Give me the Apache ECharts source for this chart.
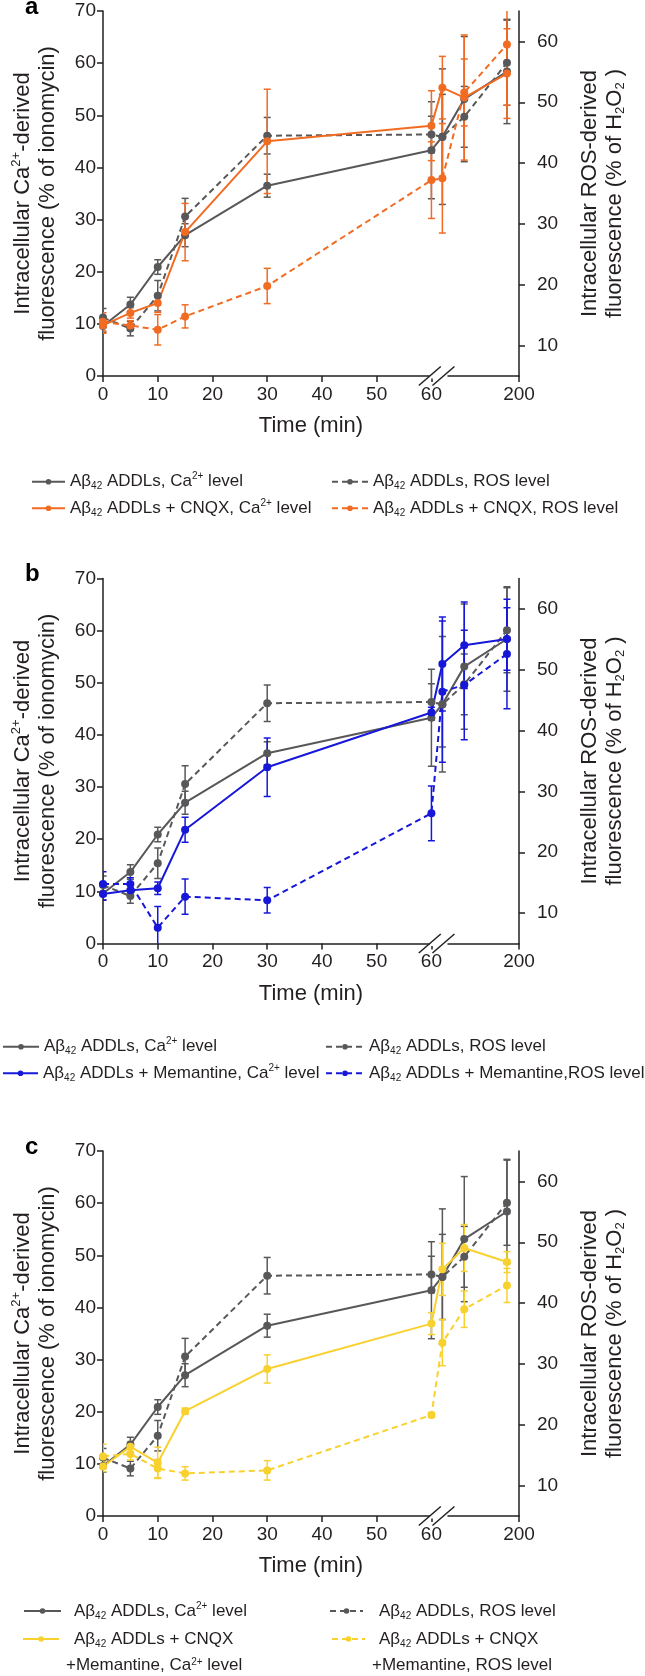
<!DOCTYPE html>
<html><head><meta charset="utf-8">
<script src="https://cdn.jsdelivr.net/npm/echarts@6/dist/echarts.min.js"></script>
<style>html,body{margin:0;padding:0;background:#fff}#c{width:645px;height:1676px}</style>
</head><body><div id="c"></div><script>
const FONT = '"Liberation Sans", Arial, Helvetica, sans-serif';
const INK = '#231f20';
const GRAY = '#58585a', ORANGE = '#f26b22', BLUE = '#1717d9', YELLOW = '#f9d12f';

// x positions on the broken time axis (axis units; compressed after the break at 60 min)
const timePos = [0, 5, 10, 15, 30, 60, 62, 66, 73.8];
const xTickPos = [0, 10, 20, 30, 40, 50, 60, 76];
const xTickLabels = ['0', '10', '20', '30', '40', '50', '60', '200'];
const breakPos = [59.7, 62.2];
const rightTicks = [10, 20, 30, 40, 50, 60];

// Aβ42 ADDLs alone (same control in all panels)
const grayCa     = [9.6, 13.7, 20.9, 27.0, 36.5, 43.3, 45.9, 53.1, 58.4];
const grayCaErr  = [1.2, 1.4, 1.4, 2.2, 2.2, 9.3, 13, 12, 10];
const grayRos    = [14.6, 12.8, 18.2, 31.2, 44.5, 44.7, 44.3, 47.6, 56.5];
const grayRosErr = [1.5, 1.2, 2.5, 3.0, 3.0, 3.0, 7, 5, 7];
// + CNQX (panel a)
const orangeCa     = [9.7, 12.1, 14.0, 27.6, 45.0, 48.0, 55.3, 53.4, 58.0];
const orangeCaErr  = [1.5, 1.0, 1.8, 5.5, 10, 6.7, 6, 12, 8.6];
const orangeRos    = [13.9, 13.3, 12.6, 14.8, 19.8, 37.2, 37.5, 51.6, 59.5];
const orangeRosErr = [1.5, 0.8, 2.5, 1.9, 2.9, 6.3, 9, 5.5, 10];
// + Memantine (panel b)
const blueCa     = [9.5, 10.2, 10.6, 21.8, 33.8, 44.3, 53.6, 57.2, 58.4];
const blueCaErr  = [1.2, 1.0, 1.2, 2.4, 5.6, 1.0, 9.0, 8.3, 6];
const blueRos    = [14.8, 14.8, 7.6, 12.7, 12.1, 26.4, 46.4, 47.5, 52.6];
const blueRosErr = [2.0, 1.0, 3.5, 2.9, 2.1, 4.5, 11.6, 9, 9];
// + CNQX + Memantine (panel c)
const yellowCa     = [9.5, 13.3, 10.2, 20.1, 28.2, 36.9, 47.3, 51.4, 48.7];
const yellowCaErr  = [1.0, 1.0, 3.0, 0.6, 2.7, 2.1, 5, 4.5, 2];
const yellowRos    = [14.8, 15.2, 12.8, 12.0, 12.5, 21.6, 33.5, 39.0, 42.9];
const yellowRosErr = [2.0, 1.0, 1.5, 1.1, 1.6, 0.4, 3.8, 3.0, 2.8];

const N = {
  gCa: 'Aβ42 ADDLs, Ca2+ level', gRos: 'Aβ42 ADDLs, ROS level',
  oCa: 'Aβ42 ADDLs + CNQX, Ca2+ level', oRos: 'Aβ42 ADDLs + CNQX, ROS level',
  bCa: 'Aβ42 ADDLs + Memantine, Ca2+ level', bRos: 'Aβ42 ADDLs + Memantine,ROS level',
  yCa: 'Aβ42 ADDLs + CNQX + Memantine, Ca2+ level', yRos: 'Aβ42 ADDLs + CNQX + Memantine, ROS level'
};
const legendShown = {};
legendShown[N.yCa] = 'Aβ42 ADDLs + CNQX';
legendShown[N.yRos] = 'Aβ42 ADDLs + CNQX';

function richText(s) { return s.replace('β42', 'β{sub|42}').replace('Ca2+', 'Ca{sup|2+}'); }

const panels = [
  { top: 11, letter: 'a', color: ORANGE, ca: orangeCa, caErr: orangeCaErr, ros: orangeRos, rosErr: orangeRosErr, nCa: N.oCa, nRos: N.oRos },
  { top: 578.5, letter: 'b', color: BLUE, ca: blueCa, caErr: blueCaErr, ros: blueRos, rosErr: blueRosErr, nCa: N.bCa, nRos: N.bRos },
  { top: 1151, letter: 'c', color: YELLOW, ca: yellowCa, caErr: yellowCaErr, ros: yellowRos, rosErr: yellowRosErr, nCa: N.yCa, nRos: N.yRos }
];
const GH = 365;

const labelStyle = { color: INK, fontFamily: FONT, fontSize: 19 };
const axisLineStyle = { color: INK, width: 1.5 };
const nameRich = {
  sup: { fontFamily: FONT, fontSize: 13, lineHeight: 12, verticalAlign: 'top', color: INK },
  sub: { fontFamily: FONT, fontSize: 13, lineHeight: 12, verticalAlign: 'bottom', color: INK }
};

const grid = [], xAxis = [], yAxis = [], series = [];

function lineSeries(name, color, dashed, vals, p, yi) {
  return {
    type: 'line', name: name, xAxisIndex: p, yAxisIndex: yi, z: 4,
    data: vals.map((v, i) => [timePos[i], v]),
    symbol: 'circle', symbolSize: 8, showSymbol: true,
    itemStyle: { color: color },
    lineStyle: { color: color, width: 2, type: dashed ? [6, 4] : 'solid' },
    emphasis: { disabled: true }, animation: false
  };
}
function errSeries(color, vals, errs, p, yi) {
  return {
    type: 'custom', xAxisIndex: p, yAxisIndex: yi, z: 3, clip: true, silent: true,
    data: vals.map((v, i) => [timePos[i], v, errs[i]]),
    encode: { x: 0, y: 1 },
    renderItem: function (params, api) {
      const x = api.value(0), y = api.value(1), e = api.value(2);
      const t = api.coord([x, y + e]), b = api.coord([x, y - e]);
      const w = 3.5, st = { stroke: color, lineWidth: 1.5 };
      return { type: 'group', children: [
        { type: 'line', shape: { x1: t[0], y1: t[1], x2: b[0], y2: b[1] }, style: st },
        { type: 'line', shape: { x1: t[0] - w, y1: t[1], x2: t[0] + w, y2: t[1] }, style: st },
        { type: 'line', shape: { x1: b[0] - w, y1: b[1], x2: b[0] + w, y2: b[1] }, style: st }
      ] };
    },
    animation: false
  };
}

panels.forEach((P, p) => {
  grid.push({ left: 103, width: 416, top: P.top, height: GH });
  xAxis.push({
    type: 'value', gridIndex: p, min: 0, max: 76,
    axisLine: { show: true, onZero: false, lineStyle: axisLineStyle },
    axisTick: { show: true, length: 6, customValues: xTickPos, lineStyle: axisLineStyle },
    axisLabel: { show: true, customValues: xTickPos, margin: 9, ...labelStyle,
      formatter: v => xTickLabels[xTickPos.indexOf(v)] },
    splitLine: { show: false },
    name: 'Time (min)', nameLocation: 'middle', nameGap: 39,
    nameTextStyle: { color: INK, fontFamily: FONT, fontSize: 22 }
  });
  yAxis.push({
    type: 'value', gridIndex: p, position: 'left', min: 0, max: 70, interval: 10,
    axisLine: { show: true, onZero: false, lineStyle: axisLineStyle },
    axisTick: { show: true, length: 6, lineStyle: axisLineStyle },
    axisLabel: { show: true, margin: 7, ...labelStyle },
    splitLine: { show: false },
    name: 'Intracellular Ca{sup|2+}-derived\nfluorescence (% of ionomycin)',
    nameLocation: 'middle', nameRotate: 90, nameGap: 43,
    nameTextStyle: { color: INK, fontFamily: FONT, fontSize: 22, lineHeight: 25, rich: nameRich }
  });
  yAxis.push({
    type: 'value', gridIndex: p, position: 'right', min: 5, max: 65,
    axisLine: { show: true, onZero: false, lineStyle: axisLineStyle },
    axisTick: { show: true, length: 6, customValues: rightTicks, lineStyle: axisLineStyle },
    axisLabel: { show: true, customValues: rightTicks, margin: 18, ...labelStyle },
    splitLine: { show: false },
    name: 'Intracellular ROS-derived\nfluorescence (% of H{sub|2}O{sub|2} )',
    nameLocation: 'middle', nameRotate: 90, nameGap: 58,
    nameTextStyle: { color: INK, fontFamily: FONT, fontSize: 22, lineHeight: 25, rich: nameRich }
  });
  const yl = 2 * p, yr = 2 * p + 1;
  series.push(errSeries(GRAY, grayCa, grayCaErr, p, yl));
  series.push(errSeries(GRAY, grayRos, grayRosErr, p, yr));
  series.push(errSeries(P.color, P.ca, P.caErr, p, yl));
  series.push(errSeries(P.color, P.ros, P.rosErr, p, yr));
  series.push(lineSeries(N.gCa, GRAY, false, grayCa, p, yl));
  series.push(lineSeries(N.gRos, GRAY, true, grayRos, p, yr));
  series.push(lineSeries(P.nCa, P.color, false, P.ca, p, yl));
  series.push(lineSeries(P.nRos, P.color, true, P.ros, p, yr));
  // axis break marks
  series.push({
    type: 'custom', xAxisIndex: p, yAxisIndex: yl, z: 6, clip: false, silent: true,
    data: [[breakPos[0], 0, breakPos[1]]], encode: { x: 0, y: 1 },
    renderItem: function (params, api) {
      const a = api.coord([api.value(0), api.value(1)]);
      const b = api.coord([api.value(2), api.value(1)]);
      const hx = 11, hy = 9.5, st = { stroke: INK, lineWidth: 1.5 };
      return { type: 'group', children: [
        { type: 'rect', shape: { x: a[0], y: a[1] - 2.5, width: b[0] - a[0] + 4, height: 5 }, style: { fill: '#fff' } },
        { type: 'line', shape: { x1: a[0] - hx, y1: a[1] + hy, x2: a[0] + hx, y2: a[1] - hy }, style: st },
        { type: 'line', shape: { x1: b[0] - hx, y1: b[1] + hy, x2: b[0] + hx, y2: b[1] - hy }, style: st }
      ] };
    },
    animation: false
  });
});

const legendRich = {
  sup: { fontFamily: FONT, fontSize: 10, lineHeight: 10, verticalAlign: 'top', color: INK },
  sub: { fontFamily: FONT, fontSize: 10, lineHeight: 10, verticalAlign: 'bottom', color: INK }
};
// [name, iconLeft, iconWidth, textPad, rowCenterY]
const legendLayout = [
  [N.gCa, 31, 33, 0, 481.7], [N.gRos, 331, 36, 0, 481.7],
  [N.oCa, 31, 33, 0, 508.3], [N.oRos, 331, 36, 0, 508.3],
  [N.gCa, 2, 36, 0, 1046.7], [N.gRos, 325, 38, 0, 1046.7],
  [N.bCa, 2, 35, 0, 1073.3], [N.bRos, 325, 38, 0, 1073.3],
  [N.gCa, 23, 37, 8, 1611], [N.gRos, 329, 33, 11, 1611],
  [N.yCa, 22, 36, 10, 1639], [N.yRos, 331, 33, 9, 1639]
];
const legend = legendLayout.map(L => ({
  data: [L[0]], left: L[1], top: L[4] - 10, itemWidth: L[2], itemHeight: 7,
  padding: 0, itemGap: 0, selectedMode: false,
  formatter: n => richText(legendShown[n] || n),
  textStyle: { color: INK, fontFamily: FONT, fontSize: 17, lineHeight: 20, padding: [0, 0, 0, L[3]], rich: legendRich }
}));

const graphic = [
  ...panels.map(P => ({ type: 'text', left: 25, top: P.top - 16, style: { text: P.letter, font: 'bold 24px ' + FONT, fill: '#000' } })),
  { type: 'text', left: 66, top: 1657, style: { text: '+Memantine, Ca{sup|2+} level', font: '17px ' + FONT, fill: INK, rich: legendRich } },
  { type: 'text', left: 372, top: 1657, style: { text: '+Memantine, ROS level', font: '17px ' + FONT, fill: INK } }
];

const chart = echarts.init(document.getElementById('c'), null, { renderer: 'canvas' });
chart.setOption({
  backgroundColor: '#fff', animation: false,
  grid: grid, xAxis: xAxis, yAxis: yAxis, series: series, legend: legend, graphic: graphic
});
</script></body></html>
